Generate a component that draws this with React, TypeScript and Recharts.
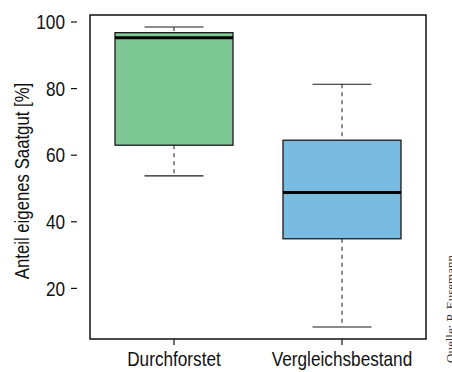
import React from 'react';
import { ComposedChart, Bar, XAxis, YAxis, ReferenceArea, Label } from 'recharts';

const categories = ['Durchforstet', 'Vergleichsbestand'];
const mins = [53.8, 8.4];
const q1s = [63.0, 34.9];
const medians = [95.3, 48.8];
const q3s = [96.8, 64.5];
const maxs = [98.5, 81.3];
const fills = ['#7dc894', '#79bbe1'];
const yTicks = [20, 40, 60, 80, 100];
const yDomain = [4.8, 102.1];
const yLabel = 'Anteil eigenes Saatgut [%]';
const source = 'Quelle: P. Eusemann';

const data = categories.map((name, i) => ({
  name,
  range: [mins[i], maxs[i]],
  min: mins[i],
  q1: q1s[i],
  median: medians[i],
  q3: q3s[i],
  max: maxs[i],
  fill: fills[i],
}));

const FONT = "'Liberation Sans', Arial, sans-serif";
const FONT_SIZE = 20;
const SQUEEZE = 0.86;

const BoxShape = (props: any) => {
  const { x, y, width, height, payload } = props;
  const top = Math.min(y, y + height);
  const span = Math.abs(height);
  const ppu = span / (payload.max - payload.min);
  const toY = (v: number) => top + (payload.max - v) * ppu;
  const cx = x + width / 2;
  const capHalf = width / 4;
  const yMax = toY(payload.max);
  const yMin = toY(payload.min);
  const yQ3 = toY(payload.q3);
  const yQ1 = toY(payload.q1);
  const yMed = toY(payload.median);
  const stroke = '#1a1a1a';
  return (
    <g>
      <line x1={cx} x2={cx} y1={yMax} y2={yQ3} stroke={stroke} strokeWidth={1} strokeDasharray="4 4" />
      <line x1={cx} x2={cx} y1={yQ1} y2={yMin} stroke={stroke} strokeWidth={1} strokeDasharray="4 4" />
      <line x1={cx - capHalf} x2={cx + capHalf} y1={yMax} y2={yMax} stroke={stroke} strokeWidth={1.2} />
      <line x1={cx - capHalf} x2={cx + capHalf} y1={yMin} y2={yMin} stroke={stroke} strokeWidth={1.2} />
      <rect x={x} y={yQ3} width={width} height={yQ1 - yQ3} fill={payload.fill} stroke={stroke} strokeWidth={1.3} />
      <line x1={x} x2={x + width} y1={yMed} y2={yMed} stroke="#000" strokeWidth={3} />
    </g>
  );
};

const YTick = (props: any) => {
  const { x, y, payload } = props;
  return (
    <g transform={`translate(${x}, ${y}) scale(${SQUEEZE}, 1)`}>
      <text x={0} y={0} dy="0.36em" textAnchor="end" fontFamily={FONT} fontSize={FONT_SIZE} fill="#111">
        {payload.value}
      </text>
    </g>
  );
};

const XTick = (props: any) => {
  const { x, y, payload } = props;
  return (
    <g transform={`translate(${x}, ${y}) scale(${SQUEEZE}, 1)`}>
      <text x={0} y={0} dy="0.78em" textAnchor="middle" fontFamily={FONT} fontSize={FONT_SIZE} fill="#111">
        {payload.value}
      </text>
    </g>
  );
};

const YLabelContent = (props: any) => {
  const vb = props.viewBox || {};
  const cx = 22;
  const cy = (vb.y ?? 15) + (vb.height ?? 324) / 2 + 4;
  return (
    <g transform={`translate(${cx}, ${cy}) rotate(-90) scale(${SQUEEZE * 0.975}, 1)`}>
      <text x={0} y={0} textAnchor="middle" dominantBaseline="central" fontFamily={FONT} fontSize={FONT_SIZE} fill="#111">
        {yLabel}
      </text>
    </g>
  );
};

export default function App() {
  return (
    <div style={{ position: 'absolute', left: 0, top: 0, width: 452, height: 372, background: '#fff', overflow: 'hidden' }}>
      <ComposedChart
        width={452}
        height={372}
        data={data}
        margin={{ top: 15, right: 13, bottom: 0, left: 0 }}
        barSize={118}
      >
        <XAxis
          dataKey="name"
          type="category"
          padding={{ left: 13, right: 13 }}
          axisLine={false}
          tickLine={{ stroke: '#111', strokeWidth: 1.2 }}
          tickSize={6}
          tickMargin={5}
          tick={<XTick />}
          height={33}
          interval={0}
        />
        <YAxis
          type="number"
          domain={yDomain}
          ticks={yTicks}
          allowDataOverflow
          width={77}
          axisLine={false}
          tickLine={{ stroke: '#111', strokeWidth: 1.2 }}
          tickSize={6}
          tickMargin={6}
          tick={<YTick />}
        >
          <Label content={<YLabelContent />} />
        </YAxis>
        <ReferenceArea
          y1={yDomain[0]}
          y2={yDomain[1]}
          fill="none"
          fillOpacity={0}
          stroke="#111"
          strokeWidth={1.5}
          ifOverflow="visible"
        />
        <Bar dataKey="range" shape={<BoxShape />} isAnimationActive={false} />
      </ComposedChart>
      <div
        style={{
          position: 'absolute',
          left: 444,
          top: 363,
          transformOrigin: '0 0',
          transform: 'rotate(-90deg)',
          fontFamily: "'Liberation Serif', 'Times New Roman', serif",
          fontSize: 13,
          color: '#333',
          whiteSpace: 'nowrap',
          lineHeight: '13px',
        }}
      >
        {source}
      </div>
    </div>
  );
}
